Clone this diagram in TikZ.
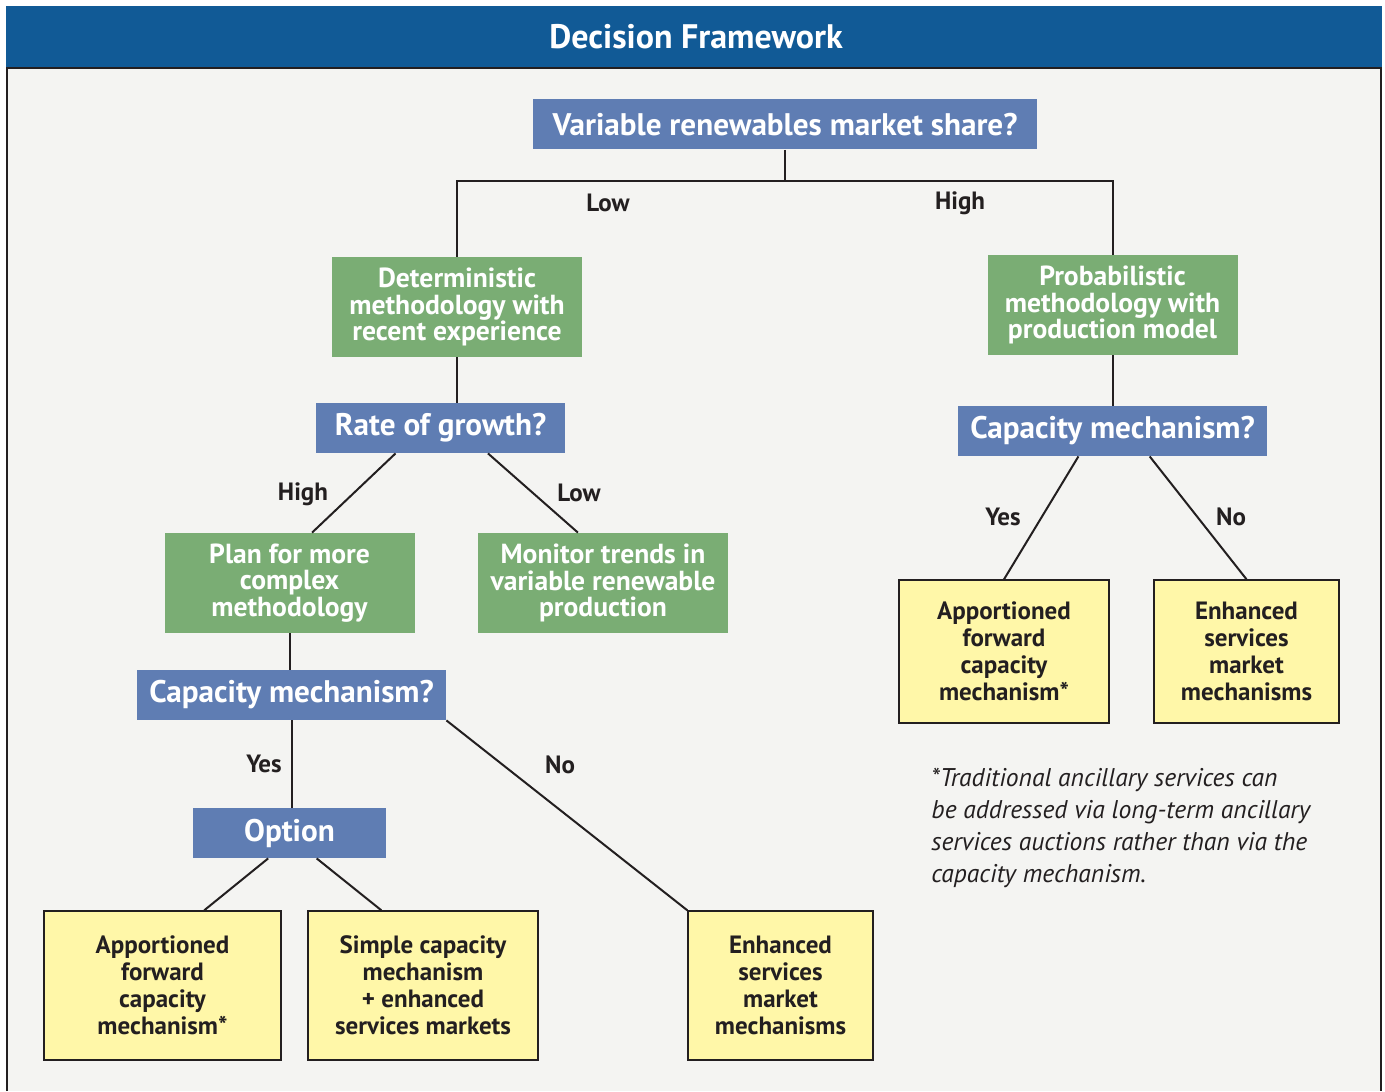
\documentclass[tikz,border=0pt]{standalone}
\usepackage{fontspec}
\setmainfont{PT Sans}
\usepackage{tikz}
\usetikzlibrary{calc}

\definecolor{headblue}{HTML}{115A96}
\definecolor{qblue}{HTML}{5F7DB3}
\definecolor{mgreen}{HTML}{7AAD74}
\definecolor{oyellow}{HTML}{FFF7A8}
\definecolor{panelgray}{HTML}{F4F4F2}
\definecolor{ink}{HTML}{231F20}

\tikzset{
  question/.style={fill=qblue, text=white, font=\bfseries\fontsize{15.6}{17}\selectfont,
    inner sep=0pt, minimum height=25pt},
  method/.style={fill=mgreen, text=white, font=\bfseries\fontsize{13.8}{13.3}\selectfont,
    align=center, inner sep=0pt, minimum width=125pt, minimum height=50pt},
  outcome/.style={fill=oyellow, draw=ink, line width=0.7pt, text=ink,
    font=\bfseries\fontsize{12.5}{13.5}\selectfont, align=center, inner sep=0pt},
  branch/.style={text=ink, font=\bfseries\fontsize{12.5}{13}\selectfont},
  link/.style={draw=ink, line width=1pt},
}

\begin{document}
\begin{tikzpicture}[x=0.5pt, y=-0.5pt]
    \useasboundingbox (0,0) rectangle (1385,1091);
    % frame and header
    \fill[white] (0,0) rectangle (1385,1091);
    \fill[panelgray] (6,68) rectangle (1382,1091);
    \draw[ink, line width=0.8pt] (7,1091) -- (7,68) -- (1381,68) -- (1381,1091);
    \fill[headblue] (6,6) rectangle (1382,67);
    \node (title) at (696,37) [text=white, font=\bfseries\fontsize{17}{19}\selectfont] {Decision Framework};

    % questions
    \node[question, minimum width=252pt] (share) at (785,124.5) {Variable renewables market share?};
    \node[question, minimum width=124.5pt] (growth) at (440.5,428) {Rate of growth?};
    \node[question, minimum width=154.5pt] (capl) at (291.5,695) {Capacity mechanism?};
    \node[question, minimum width=96.5pt] (option) at (289.5,833) {Option};
    \node[question, minimum width=154.5pt] (capr) at (1112.5,431) {Capacity mechanism?};

    % methodologies
    \node[method] (det) at (457,307) {Deterministic\\methodology with\\recent experience};
    \node[method] (prob) at (1112.5,305) {Probabilistic\\methodology with\\production model};
    \node[method] (plan) at (289.5,583) {Plan for more\\complex\\methodology};
    \node[method] (monitor) at (603,583) {Monitor trends in\\variable renewable\\production};

    % outcomes
    \node[outcome, minimum width=118.5pt, minimum height=74.5pt] (afcl) at (162.5,985.5)
        {Apportioned\\forward\\capacity\\mechanism*};
    \node[outcome, minimum width=115pt, minimum height=74.5pt] (simple) at (423,985.5)
        {Simple capacity\\mechanism\\+ enhanced\\services markets};
    \node[outcome, minimum width=92.5pt, minimum height=74.5pt] (esml) at (780.5,985.5)
        {Enhanced\\services\\market\\mechanisms};
    \node[outcome, minimum width=105pt, minimum height=71.5pt] (afcr) at (1004,651.5)
        {Apportioned\\forward\\capacity\\mechanism*};
    \node[outcome, minimum width=92.5pt, minimum height=71.5pt] (esmr) at (1246.5,651.5)
        {Enhanced\\services\\market\\mechanisms};

    % connectors
    \coordinate (split) at (785,181);
    \draw[link] (share.south) -- (split);
    \draw[link] (det.north) |- (split) -| (prob.north);
    \draw[link] (det.south) -- (det.south |- growth.north);
    \draw[link] ($(growth.south west)!0.32!(growth.south east)$) -- ($(plan.north west)!0.59!(plan.north east)$);
    \draw[link] ($(growth.south west)!0.69!(growth.south east)$) -- ($(monitor.north west)!0.40!(monitor.north east)$);
    \draw[link] (plan.south) -- (plan.south |- capl.north);
    \draw[link] (capl.south) -- (capl.south |- option.north);
    \draw[link] (capl.south east) -- (esml.north west);
    \draw[link] ($(option.south west)!0.39!(option.south east)$) -- ($(afcl.north west)!0.675!(afcl.north east)$);
    \draw[link] ($(option.south west)!0.64!(option.south east)$) -- ($(simple.north west)!0.32!(simple.north east)$);
    \draw[link] (prob.south) -- (prob.south |- capr.north);
    \draw[link] ($(capr.south west)!0.39!(capr.south east)$) -- (afcr.north);
    \draw[link] ($(capr.south west)!0.62!(capr.south east)$) -- (esmr.north);

    % branch labels
    \node[branch] (lowa) at (608,203) {Low};
    \node[branch] (higha) at (960,203) {High};
    \node[branch] (highb) at (303,494) {High};
    \node[branch] (lowb) at (579,493) {Low};
    \node[branch] (yesl) at (264,764) {Yes};
    \node[branch] (nol) at (560,765) {No};
    \node[branch] (yesr) at (1003,517) {Yes};
    \node[branch] (nor) at (1231,517) {No};

    % footnote
    \node[anchor=north west, align=left, text=ink, inner sep=0pt,
          font=\itshape\fontsize{12.8}{16}\selectfont] (note) at (931,768)
        {*Traditional ancillary services can\\be addressed via long-term ancillary\\services auctions rather than via the\\capacity mechanism.};
\end{tikzpicture}
\end{document}
